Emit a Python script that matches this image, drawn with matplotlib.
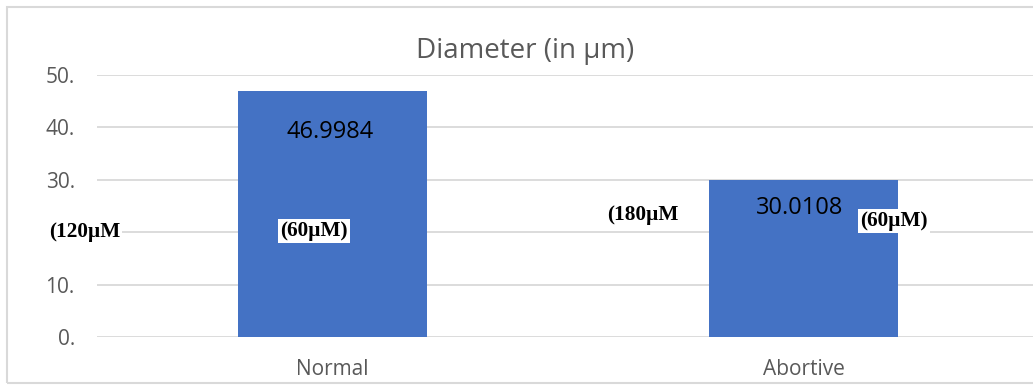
import matplotlib
matplotlib.use("Agg")
import matplotlib.pyplot as plt
from matplotlib.patches import Rectangle

categories = ["Normal", "Abortive"]
diameters = [46.9984, 30.0108]
value_labels = ["46.9984", "30.0108"]
yticks = [0, 10, 20, 30, 40, 50]
ytick_labels = ["0.", "10.", "20.", "30.", "40.", "50."]
title = "Diameter (in µm)"
overlay_texts = ["(120µM", "(60µM)", "(180µM", "(60µM)"]

W, H = 1033, 385
fig = plt.figure(figsize=(W / 100, H / 100), dpi=100)
fig.patch.set_facecolor("white")

def fx(px):
    return px / W

def fy(py):
    return 1 - py / H

# outer chart frame
fig.add_artist(Rectangle((fx(7), fy(383)), 1.2, fy(7) - fy(383),
                         transform=fig.transFigure, fill=False,
                         edgecolor="#d9d9d9", lw=1.5))

ax = fig.add_axes([fx(97), fy(337), 942 / W, fy(75) - fy(337)])
x = list(range(len(categories)))
ax.bar(x, diameters, width=0.4, color="#4472C4", zorder=2)
ax.set_xlim(-0.5, 1.5)
ax.set_ylim(0, 50)
ax.set_yticks(yticks)
ax.set_yticklabels(ytick_labels, fontfamily="Open Sans", fontsize=15, color="#595959")
ax.set_xticks(x)
ax.set_xticklabels(categories, fontfamily="Open Sans", fontsize=15, color="#595959")
ax.tick_params(axis="y", length=0, pad=16)
ax.tick_params(axis="x", length=0, pad=15.5)
ax.grid(axis="y", color="#d9d9d9", lw=1.3, zorder=0)
for s in ax.spines.values():
    s.set_visible(False)
ax.set_axisbelow(True)

# value labels inside bars
offsets = [(-2, -41), (-4, -28)]
for i, (v, lab) in enumerate(zip(diameters, value_labels)):
    dx, dy = offsets[i]
    ax.annotate(lab, xy=(i, v), xytext=(dx * 0.72, dy * 0.72), textcoords="offset points",
                ha="center", va="center", fontfamily="Open Sans", fontsize=17, color="#000000")

fig.text(fx(525), fy(51), title, ha="center", va="center",
         fontfamily="Open Sans", fontsize=20, color="#595959")

# overlaid concentration notes (bold serif, white background)
serif = dict(fontfamily="Liberation Serif", fontweight="bold", fontsize=15.3, color="black")
box = dict(facecolor="white", edgecolor="none", pad=1.5)
positions = [(49, 232, "left"), (314, 231, "center"), (607, 215, "left"), (894, 221, "center")]
for (px, py, ha), t in zip(positions, overlay_texts):
    fig.text(fx(px), fy(py), t, ha=ha, va="center", bbox=box, zorder=10, **serif)

fig.savefig("out.png", dpi=100, facecolor="white")
